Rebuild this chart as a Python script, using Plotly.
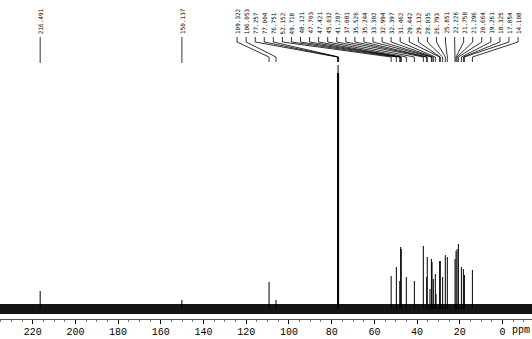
import plotly.graph_objects as go
import numpy as np

# ---- data (ppm, relative intensity) ----
lowfield_ppm = [216.491, 150.137]
lowfield_int = [18, 9]
lowfield_labels = ["216.491", "150.137"]

cluster_ppm = [109.322, 106.053, 77.257, 77.004, 76.751,
               52.152, 49.718, 48.121, 47.703, 47.421, 45.032, 41.287, 37.081,
               35.526, 35.244, 33.302, 32.994, 32.397, 31.462, 29.442, 29.132,
               28.035, 26.793, 25.851, 22.226, 21.758, 21.296, 20.664, 19.261,
               18.325, 17.854, 14.108]
cluster_int = [27, 9, 236, 244, 236,
               33, 42, 28, 62, 60, 32, 28, 63,
               32, 52, 50, 47, 30, 35, 48, 48,
               32, 54, 52, 50, 58, 60, 65, 42,
               40, 34, 39]
cluster_labels = [f"{v:.3f}" for v in cluster_ppm]

minor_ppm = [33.98, 31.15]
minor_int = [20, 15]

tick_vals = [220, 200, 180, 160, 140, 120, 100, 80, 60, 40, 20, 0]
tick_text = ["220", "200", "180", "160", "140", "120", "100", "80", "60", "40", "20", "0"]

X_RANGE = [235.3, -13.8]
NOISE = 5

fig = go.Figure()

# baseline noise band
fig.add_trace(go.Scatter(x=[X_RANGE[0], X_RANGE[1], X_RANGE[1], X_RANGE[0]],
                         y=[-NOISE, -NOISE, NOISE, NOISE], fill="toself",
                         fillcolor="#151515", line=dict(width=0), mode="lines",
                         hoverinfo="skip", showlegend=False))

# peaks as sticks
all_ppm = lowfield_ppm + cluster_ppm + minor_ppm
all_int = lowfield_int + cluster_int + minor_int
px, py = [], []
for p, h in zip(all_ppm, all_int):
    px += [p, p, None]
    py += [0, h, None]
fig.add_trace(go.Scatter(x=px, y=py, mode="lines", line=dict(color="black", width=1),
                         hoverinfo="skip", showlegend=False))

# label leader lines
Y_LAB = 272
lx, ly = [], []
for p in lowfield_ppm:
    lx += [p, p, None]
    ly += [Y_LAB, 246, None]
label_pos = np.linspace(124.3, -7.26, len(cluster_ppm))
for lp, p in zip(label_pos, cluster_ppm):
    lx += [lp, lp, p, p, None]
    ly += [Y_LAB, 267, 252, 247, None]
fig.add_trace(go.Scatter(x=lx, y=ly, mode="lines", line=dict(color="black", width=0.8),
                         hoverinfo="skip", showlegend=False))

annos = []
for p, t in zip(lowfield_ppm, lowfield_labels):
    annos.append(dict(x=p, y=Y_LAB, text=t, textangle=-90, showarrow=False,
                      xanchor="center", yanchor="bottom", yshift=1,
                      font=dict(family="DejaVu Sans Mono", size=6, color="black")))
for lp, t in zip(label_pos, cluster_labels):
    annos.append(dict(x=lp, y=Y_LAB, text=t, textangle=-90, showarrow=False,
                      xanchor="center", yanchor="bottom", yshift=1,
                      font=dict(family="DejaVu Sans Mono", size=6, color="black")))
annos.append(dict(x=1.0, xref="paper", y=0, yref="paper", yshift=-11, text="ppm",
                  showarrow=False, xanchor="right", yanchor="middle",
                  font=dict(family="Liberation Mono", size=10, color="black")))

fig.update_layout(
    width=532, height=339, margin=dict(l=0, r=0, t=0, b=20),
    paper_bgcolor="white", plot_bgcolor="white",
    annotations=annos,
    xaxis=dict(range=X_RANGE, tickvals=tick_vals, ticktext=tick_text,
               showgrid=False, zeroline=False, showline=True, linecolor="#555555",
               linewidth=1, ticks="outside", ticklen=4, tickcolor="black",
               ticklabelstandoff=-1,
               tickfont=dict(family="Liberation Mono", size=10, color="black"),
               minor=dict(dtick=5, ticks="outside", ticklen=2, tickcolor="#777777")),
    yaxis=dict(range=[-10, 309], visible=False, showgrid=False, zeroline=False),
)

fig.write_html("out.html")
